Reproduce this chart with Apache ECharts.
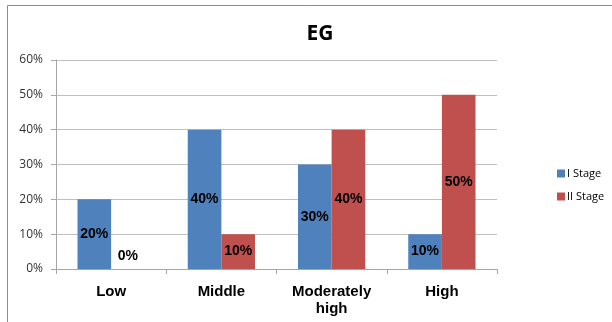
<!DOCTYPE html>
<html>
<head>
<meta charset="utf-8">
<script src="https://cdn.jsdelivr.net/npm/echarts@6/dist/echarts.min.js"></script>
<style>
  html, body { margin: 0; padding: 0; background: #fff; }
  #chart { width: 612px; height: 322px; }
</style>
</head>
<body>
<div id="chart"></div>
<script>
// Share of cases per EG level, by stage (percent)
const categories = ['Low', 'Middle', 'Moderately\nhigh', 'High'];
const stageOne = [20, 40, 30, 10];
const stageTwo = [0, 10, 40, 50];
const seriesNames = ['I Stage', 'II Stage'];
const yTicks = [0, 10, 20, 30, 40, 50, 60];

const labelFont = { fontFamily: 'Liberation Sans, Arial, sans-serif', fontWeight: 'bold', fontSize: 14, color: '#000' };

// zero-height bars get their label lifted above the baseline
function toItems(values) {
  return values.map(v => v === 0
    ? { value: v, label: { position: 'top', distance: 6 } }
    : { value: v });
}

const chart = echarts.init(document.getElementById('chart'), null, { renderer: 'canvas' });
chart.setOption({
  animation: false,
  backgroundColor: '#fff',
  title: {
    text: 'EG',
    left: 315,
    top: 19,
    textAlign: 'center',
    textStyle: { fontFamily: 'Open Sans, sans-serif', fontWeight: 'bold', fontSize: 21, color: '#000' }
  },
  graphic: [{
    type: 'rect',
    shape: { x: 7.5, y: 5.5, width: 620, height: 330 },
    style: { fill: 'none', stroke: '#8c8c8c', lineWidth: 1 },
    silent: true
  }],
  legend: {
    orient: 'vertical',
    left: 552,
    top: 163,
    itemWidth: 8,
    itemHeight: 8,
    itemGap: 12,
    icon: 'rect',
    data: seriesNames,
    textStyle: { fontFamily: 'Open Sans, sans-serif', fontSize: 11, color: '#000', padding: [0, 0, 0, -3] }
  },
  grid: { left: 56, right: 115, top: 60, bottom: 53, containLabel: false },
  xAxis: {
    type: 'category',
    data: categories,
    axisLine: { lineStyle: { color: '#a6a6a6' } },
    axisTick: { show: true, length: 5, lineStyle: { color: '#a6a6a6' } },
    axisLabel: {
      margin: 14,
      fontFamily: 'Liberation Sans, Arial, sans-serif',
      fontWeight: 'bold',
      fontSize: 15,
      color: '#000',
      lineHeight: 17
    }
  },
  yAxis: {
    type: 'value',
    min: yTicks[0],
    max: yTicks[yTicks.length - 1],
    interval: 10,
    axisLine: { show: true, lineStyle: { color: '#a6a6a6' } },
    axisTick: { show: true, length: 5, lineStyle: { color: '#a6a6a6' } },
    splitLine: { lineStyle: { color: '#bfbfbf' } },
    axisLabel: {
      formatter: '{value}%',
      margin: 13,
      fontFamily: 'Open Sans, sans-serif',
      fontSize: 12,
      color: '#333'
    }
  },
  series: [
    {
      name: seriesNames[0],
      type: 'bar',
      data: toItems(stageOne),
      barGap: '0%',
      barCategoryGap: '39%',
      itemStyle: { color: '#4f81bd' },
      label: Object.assign({ show: true, position: 'inside', formatter: '{c}%' }, labelFont)
    },
    {
      name: seriesNames[1],
      type: 'bar',
      data: toItems(stageTwo),
      barGap: '0%',
      barCategoryGap: '39%',
      itemStyle: { color: '#c0504d' },
      label: Object.assign({ show: true, position: 'inside', formatter: '{c}%' }, labelFont)
    }
  ]
});
</script>
</body>
</html>
